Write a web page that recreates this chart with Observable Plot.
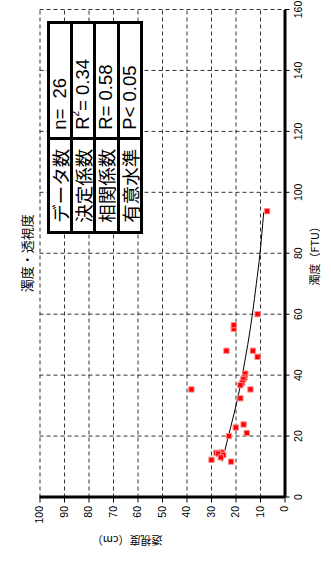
<!DOCTYPE html>
<html>
<head>
<meta charset="utf-8">
<script src="https://cdn.jsdelivr.net/npm/d3@7"></script>
<script src="https://cdn.jsdelivr.net/npm/@observablehq/plot@0.6"></script>
<style>
  html, body { margin: 0; padding: 0; background: #fff; }
  body { width: 331px; height: 561px; overflow: hidden; position: relative; }
  /* the chart is laid out landscape and turned a quarter turn counter-clockwise */
  #chart { position: absolute; left: 0; top: 0; width: 561px; height: 331px;
           transform-origin: 0 0; transform: translate(0, 561px) rotate(-90deg); }
  #chart svg { display: block; }
  #stats { position: absolute; left: 326.5px; top: 46.8px; display: grid;
           grid-template-columns: 91.7px 112.6px; grid-template-rows: repeat(4, 20.35px);
           gap: 3px; padding: 3px; background: #000; }
  #stats div { background: #fff; font-size: 18.5px; line-height: 1; white-space: pre;
               display: flex; align-items: center; }
  #stats .lab { justify-content: center; font-family: "Noto Sans CJK JP", sans-serif; }
  #stats .val { padding-left: 7px; font-family: "Liberation Sans", Arial, sans-serif; }
  #stats sup { font-size: 10px; line-height: 0; position: relative; top: -7px; }
</style>
</head>
<body>
<div id="chart"></div>
<script>
// Turbidity (FTU) and transparency (cm) of each sample
const turbidity    = [93.8, 60.0, 55.2, 56.4, 48.0, 48.0, 46.0, 40.5, 39.2, 38.6, 37.5, 36.7, 35.3,
                      35.3, 32.4, 23.8, 22.8, 21.0, 20.0, 14.6, 14.5, 14.2, 13.8, 13.0, 12.2, 11.6];
const transparency = [7.3, 11.2, 20.9, 20.9, 23.9, 13.1, 11.2, 16.2, 16.5, 17.0, 17.5, 18.2, 14.1,
                      38.2, 18.2, 16.9, 20.1, 15.6, 22.9, 25.8, 28.0, 27.2, 25.2, 26.2, 30.0, 22.0];

// Fitted trend curve
const fitTurbidity    = [11.8, 20, 30, 40, 50, 60, 70, 80, 93.3];
const fitTransparency = [25.6, 23.1, 20.0, 17.4, 15.2, 13.3, 11.7, 10.2, 8.7];

// Axis ticks
const turbidityTicks    = [0, 20, 40, 60, 80, 100, 120, 140, 160];
const transparencyTicks = [0, 10, 20, 30, 40, 50, 60, 70, 80, 90, 100];

// Statistics box
const statLabels = ["データ数", "決定係数", "相関係数", "有意水準"];
const statValues = ["n=  26", "R<sup>2</sup>= 0.34", "R= 0.58", "P< 0.05"];

const title = "濁度・透視度";
const xLabel = "濁度（FTU）";
const yLabel = "透視度（cm）";

const points = turbidity.map((t, i) => ({t, p: transparency[i]}));
const fit = fitTurbidity.map((t, i) => ({t, p: fitTransparency[i]}));

const grid = {stroke: "#333", strokeWidth: 1, strokeDasharray: "4,3"};

const chart = Plot.plot({
  width: 561,
  height: 331,
  marginLeft: 63.5,
  marginRight: 10,
  marginTop: 39.5,
  marginBottom: 46.5,
  style: {fontFamily: "'Liberation Sans', 'Noto Sans CJK JP', sans-serif", fontSize: "10px", background: "#fff", color: "#000"},
  x: {domain: [0, 160]},
  y: {domain: [0, 100]},
  marks: [
    Plot.ruleX(turbidityTicks.slice(1), grid),
    Plot.ruleY(transparencyTicks.slice(1), grid),
    Plot.axisX({ticks: turbidityTicks, tickSize: 5, tickPadding: 5, label: null, fontSize: 10.5}),
    Plot.axisY({ticks: transparencyTicks, tickSize: 5, tickPadding: 4, label: null, fontSize: 10.5}),
    Plot.ruleX([0], {stroke: "#000", strokeWidth: 3}),
    Plot.ruleY([0], {stroke: "#000", strokeWidth: 3}),
    Plot.line(fit, {x: "t", y: "p", curve: "natural", stroke: "#000", strokeWidth: 1}),
    Plot.dot(points, {x: "t", y: "p", symbol: "square", r: 3, fill: "#f00", stroke: "#ff8c8c", strokeWidth: 1}),
    Plot.text([title], {text: d => d, frameAnchor: "top", dy: -17.5, fontSize: 13, fontFamily: "'Noto Sans CJK JP', sans-serif"}),
    Plot.text([xLabel], {text: d => d, frameAnchor: "bottom", dy: 33.5, fontSize: 11, fontFamily: "'Noto Sans CJK JP', sans-serif"}),
    Plot.text([yLabel], {text: d => d, frameAnchor: "left", dx: -42.5, rotate: -90, fontSize: 11, fontFamily: "'Noto Sans CJK JP', sans-serif"})
  ]
});

const host = document.getElementById("chart");
host.appendChild(chart);

const box = document.createElement("div");
box.id = "stats";
statLabels.forEach((lab, i) => {
  const a = document.createElement("div");
  a.className = "lab";
  a.textContent = lab;
  const b = document.createElement("div");
  b.className = "val";
  b.innerHTML = statValues[i];
  box.appendChild(a);
  box.appendChild(b);
});
host.appendChild(box);
</script>
</body>
</html>
